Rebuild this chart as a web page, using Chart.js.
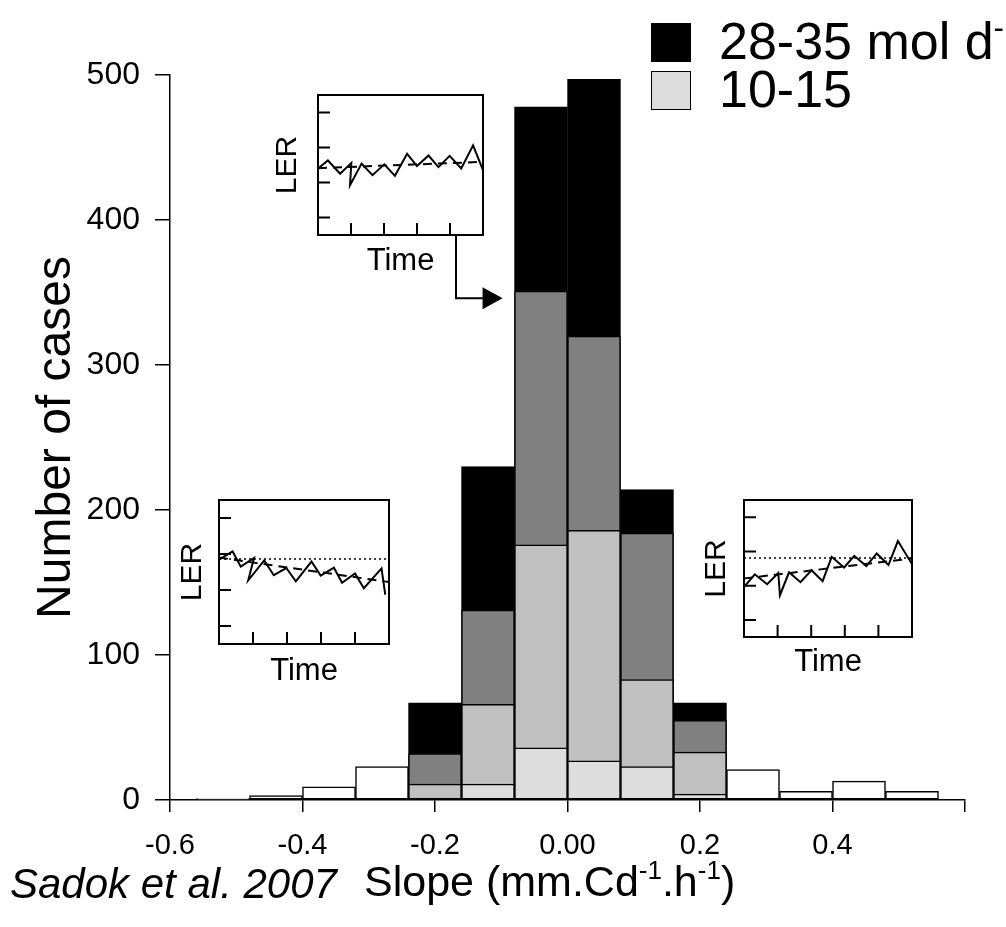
<!DOCTYPE html>
<html>
<head>
<meta charset="utf-8">
<script src="https://cdn.jsdelivr.net/npm/chart.js@4.4.0/dist/chart.umd.min.js"></script>
<style>
  body { margin: 0; width: 1006px; height: 927px; overflow: hidden; background: #fff; position: relative;
         font-family: "Liberation Sans", Arial, sans-serif; color: #000; }
  #mainBox { position: absolute; left: 0; top: 0; width: 1006px; height: 927px; }
  .inset { position: absolute; }
  .legend { position: absolute; left: 651px; white-space: nowrap; font-size: 52px; line-height: 52px; }
  .legend span.box { display: inline-block; width: 40px; height: 39px; vertical-align: -3px; margin-right: 28px; box-sizing: border-box; border: 1.5px solid #000; }
  .legend sup { font-size: 31px; vertical-align: 21px; line-height: 0; }
  #xTitle { position: absolute; left: 364px; top: 860px; font-size: 43px; line-height: 43px; white-space: nowrap; }
  #xTitle sup { font-size: 26px; vertical-align: 17px; line-height: 0; }
  #credit { position: absolute; left: 10px; top: 863px; font-size: 42px; font-style: italic; line-height: 42px; white-space: nowrap; }
</style>
</head>
<body>
<div id="mainBox"><canvas id="histo"></canvas></div>
<div class="inset" id="topBox" style="left:262px; top:88px; width:230px; height:195px;"><canvas id="insetTop"></canvas></div>
<div class="inset" id="leftBox" style="left:175px; top:493px; width:222px; height:200px;"><canvas id="insetLeft"></canvas></div>
<div class="inset" id="rightBox" style="left:695px; top:493px; width:225px; height:195px;"><canvas id="insetRight"></canvas></div>
<div class="legend" style="top:15px;"><span class="box" style="background:#000;"></span>28-35 mol d<sup>-1</sup></div>
<div class="legend" style="top:63px;"><span class="box" style="background:#dddddd;"></span>10-15</div>
<div id="xTitle">Slope (mm.Cd<sup>-1</sup>.h<sup>-1</sup>)</div>
<div id="credit">Sadok et al. 2007</div>
<script>
"use strict";

// histogram bins (slope, bin centres, width 0.08)
const binCenters = [-0.52, -0.44, -0.36, -0.28, -0.2, -0.12, -0.04, 0.04, 0.12, 0.2, 0.28, 0.36, 0.44, 0.52];

// number of cases for each light class (overlapping bars, not stacked)
const casesHigh = [null, null, null, null, 67, 230, 478, 497, 214, 67, null, null, null, null];
const casesMidHigh = [null, null, null, null, 32, 131, 351, 320, 184, 55, null, null, null, null];
const casesMidLow = [null, null, null, null, 11, 66, 176, 186, 83, 33, null, null, null, null];
const casesLow = [null, null, null, null, null, 11, 36, 27, 23, 4, null, null, null, null];
const casesOther = [1, 3, 9, 23, null, null, null, null, null, null, 21, 6, 13, 6];

const slopeTicks = [-0.6, -0.4, -0.2, 0, 0.2, 0.4, 0.6];
const slopeTickLabels = ["-0.6", "-0.4", "-0.2", "0.00", "0.2", "0.4", ""];
const caseTicks = [0, 100, 200, 300, 400, 500];

// small LER vs time insets
const insetTimeTicks = [1, 2, 3, 4];
const insetLerTicks = [0.5, 1.5, 2.5, 3.5];

const topTime = [0, 0.3, 0.67, 1.01, 0.97, 1.32, 1.65, 2.01, 2.33, 2.7, 3.0, 3.35, 3.65, 3.99, 4.34, 4.7, 5.0];
const topLer = [1.9, 2.13, 1.75, 2.06, 1.42, 2.04, 1.71, 2.02, 1.69, 2.32, 1.97, 2.27, 1.94, 2.26, 1.9, 2.56, 1.85];
const topTrend = [1.91, 2.09];

const leftTime = [0, 0.4, 0.64, 1.03, 0.86, 1.33, 1.61, 1.98, 2.26, 2.72, 2.99, 3.38, 3.62, 4.0, 4.26, 4.78, 4.89];
const leftLer = [2.34, 2.57, 2.15, 2.39, 1.77, 2.32, 1.91, 2.11, 1.74, 2.29, 1.9, 2.12, 1.7, 1.96, 1.55, 2.1, 1.37];
const leftTrend = [2.4, 1.72];
const leftLevel = 2.36;

const rightTime = [0, 0.32, 0.69, 1.02, 1.07, 1.34, 1.68, 2.01, 2.34, 2.61, 2.98, 3.28, 3.64, 3.95, 4.3, 4.58, 5.0];
const rightLer = [1.46, 1.83, 1.54, 1.87, 1.22, 1.89, 1.6, 1.95, 1.63, 2.34, 2.03, 2.37, 2.07, 2.44, 2.1, 2.8, 2.13];
const rightTrend = [1.71, 2.29];
const rightLevel = 2.31;

// where the arrow from the top inset points (slope, cases)
const arrowTip = [-0.098, 346];

Chart.defaults.font.family = "'Liberation Sans', Arial, sans-serif";
Chart.defaults.color = "#000";

function toPoints(values) {
  return binCenters.map((x, i) => ({ x: x, y: values[i] }));
}

function barSet(label, values, fill, order) {
  return {
    label: label,
    data: toPoints(values),
    backgroundColor: fill,
    borderColor: "#000",
    borderWidth: 1.5,
    borderSkipped: false,
    order: order,
  };
}

const arrowPlugin = {
  id: "arrowPlugin",
  afterDraw(chart) {
    const ctx = chart.ctx;
    const tipX = chart.scales.x.getPixelForValue(arrowTip[0]);
    const tipY = chart.scales.y.getPixelForValue(arrowTip[1]);
    ctx.save();
    ctx.strokeStyle = "#000";
    ctx.lineWidth = 2;
    ctx.beginPath();
    ctx.moveTo(456, 235);
    ctx.lineTo(456, tipY);
    ctx.lineTo(tipX - 18, tipY);
    ctx.stroke();
    ctx.beginPath();
    ctx.moveTo(tipX - 20, tipY - 11);
    ctx.lineTo(tipX, tipY);
    ctx.lineTo(tipX - 20, tipY + 11);
    ctx.closePath();
    ctx.fillStyle = "#000";
    ctx.fill();
    ctx.restore();
  },
};

const histoChart = new Chart(document.getElementById("histo"), {
  type: "bar",
  data: {
    datasets: [
      barSet("28-35 mol d-1", casesHigh, "#000000", 4),
      barSet("", casesMidHigh, "#808080", 3),
      barSet("", casesMidLow, "#c0c0c0", 2),
      barSet("10-15", casesLow, "#dddddd", 1),
      barSet("", casesOther, "#ffffff", 5),
    ],
  },
  options: {
    responsive: true,
    maintainAspectRatio: false,
    animation: false,
    layout: { padding: { top: 75, right: 41, bottom: 0, left: 0 } },
    datasets: { bar: { grouped: false, barPercentage: 1, categoryPercentage: 1 } },
    plugins: { legend: { display: false }, tooltip: { enabled: false } },
    scales: {
      x: {
        type: "linear",
        offset: false,
        min: -0.6,
        max: 0.6,
        afterBuildTicks: (s) => { s.ticks = slopeTicks.map((v) => ({ value: v })); },
        afterFit: (s) => { s.height = 127; },
        ticks: {
          autoSkip: false,
          maxRotation: 0,
          padding: 17,
          font: { size: 29 },
          callback: (v, i) => slopeTickLabels[i],
        },
        grid: { offset: false, drawOnChartArea: false, tickLength: 12, color: "#000", lineWidth: 1.5 },
        border: { color: "#000", width: 1.5 },
      },
      y: {
        min: 0,
        max: 500,
        afterBuildTicks: (s) => { s.ticks = caseTicks.map((v) => ({ value: v })); },
        afterFit: (s) => { s.width = 170; },
        ticks: { padding: 15, font: { size: 32 } },
        grid: { drawOnChartArea: false, tickLength: 15, color: "#000", lineWidth: 1.5 },
        border: { color: "#000", width: 1.5 },
        title: { display: true, text: "Number of cases", font: { size: 48 }, padding: { top: 28, bottom: 0 } },
      },
    },
  },
  plugins: [arrowPlugin],
});

const insetFrame = {
  id: "insetFrame",
  afterDraw(chart) {
    const ctx = chart.ctx;
    const a = chart.chartArea;
    const xs = chart.scales.x;
    const ys = chart.scales.y;
    ctx.save();
    ctx.strokeStyle = "#000";
    ctx.lineWidth = 2;
    ctx.strokeRect(a.left, a.top, a.right - a.left, a.bottom - a.top);
    ctx.beginPath();
    insetTimeTicks.forEach((t) => {
      const px = xs.getPixelForValue(t);
      ctx.moveTo(px, a.bottom);
      ctx.lineTo(px, a.bottom - 12);
    });
    insetLerTicks.forEach((t) => {
      const py = ys.getPixelForValue(t);
      ctx.moveTo(a.left, py);
      ctx.lineTo(a.left + 12, py);
    });
    ctx.stroke();
    ctx.restore();
  },
};

function makeInset(canvasId, time, ler, trend, level, box) {
  const datasets = [
    {
      data: time.map((t, i) => ({ x: t, y: ler[i] })),
      borderColor: "#000",
      borderWidth: 2,
      pointRadius: 0,
    },
    {
      data: [{ x: 0, y: trend[0] }, { x: 5, y: trend[1] }],
      borderColor: "#000",
      borderWidth: 2,
      borderDash: [9, 6],
      pointRadius: 0,
    },
  ];
  if (level !== null) {
    datasets.push({
      data: [{ x: 0, y: level }, { x: 5, y: level }],
      borderColor: "#000",
      borderWidth: 1.5,
      borderDash: [2, 3],
      pointRadius: 0,
    });
  }
  return new Chart(document.getElementById(canvasId), {
    type: "line",
    data: { datasets: datasets },
    options: {
      responsive: true,
      maintainAspectRatio: false,
      animation: false,
      layout: { padding: { top: 7, right: box.right, bottom: 0, left: 0 } },
      plugins: { legend: { display: false }, tooltip: { enabled: false } },
      scales: {
        x: {
          type: "linear",
          min: 0,
          max: 5,
          afterFit: (s) => { s.height = box.xHeight; },
          ticks: { display: false },
          grid: { display: false },
          border: { display: false },
          title: { display: true, text: "Time", font: { size: 31 }, padding: { top: 0, bottom: box.timePad } },
        },
        y: {
          min: 0,
          max: 4,
          afterFit: (s) => { s.width = box.yWidth; },
          ticks: { display: false },
          grid: { display: false },
          border: { display: false },
          title: { display: true, text: "LER", font: { size: 30 }, padding: { top: box.lerPad, bottom: 0 } },
        },
      },
    },
    plugins: [insetFrame],
  });
}

makeInset("insetTop", topTime, topLer, topTrend, null, { right: 9, xHeight: 48, yWidth: 56, timePad: 3, lerPad: 8 });
makeInset("insetLeft", leftTime, leftLer, leftTrend, leftLevel, { right: 8, xHeight: 49, yWidth: 44, timePad: 3, lerPad: 0 });
makeInset("insetRight", rightTime, rightLer, rightTrend, rightLevel, { right: 8, xHeight: 51, yWidth: 49, timePad: 7, lerPad: 4 });
</script>
</body>
</html>
